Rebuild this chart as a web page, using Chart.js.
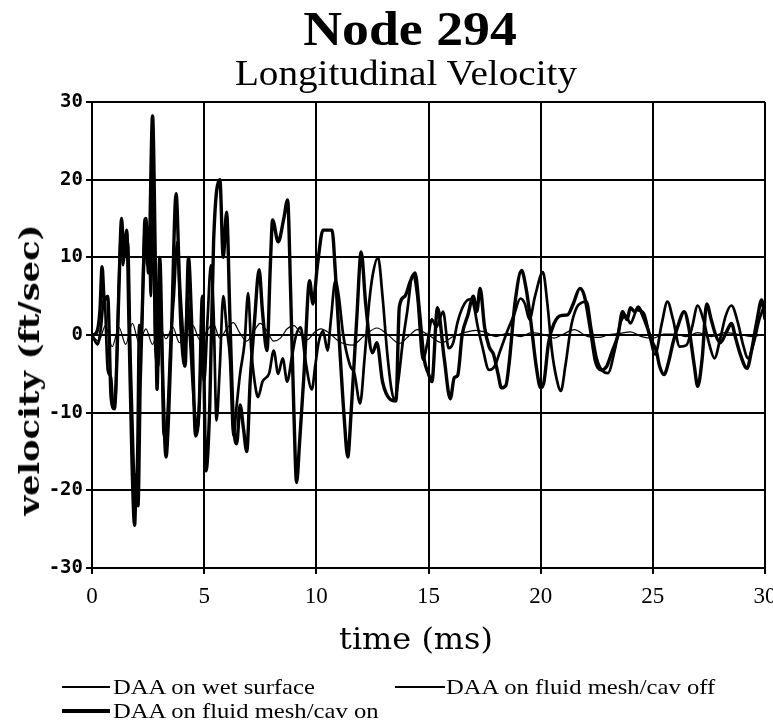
<!DOCTYPE html>
<html>
<head>
<meta charset="utf-8">
<script src="https://cdn.jsdelivr.net/npm/chart.js@4/dist/chart.umd.min.js"></script>
<style>
  html, body { margin: 0; padding: 0; background: #fff; overflow: hidden; }
  #wrap { position: relative; width: 773px; height: 724px; }
  #c { position: absolute; left: 0; top: 0; }
  .t { position: absolute; white-space: nowrap; color: #000; }
  #title { left: 410px; top: 5px; font: bold 48px/48px "Liberation Serif", serif; transform: translateX(-50%) scaleX(1.12); }
  #sub { left: 406px; top: 56px; font: 35px/35px "Liberation Serif", serif; transform: translateX(-50%) scaleX(1.12); }
  #ytitle { left: 30px; top: 370px; font: bold 28px/28px "DejaVu Serif", serif; transform: translate(-50%, -50%) rotate(-90deg) scaleX(1.2); }
  #xtitle { left: 416px; top: 625px; font: 29px/29px "DejaVu Serif", serif; transform: translateX(-50%) scaleX(1.1); }
  .lg { position: absolute; font: 22px/22px "Liberation Serif", serif; transform-origin: 0 50%; transform: scaleX(1.12); white-space: nowrap; }
  .sw { position: absolute; background: #000; }
</style>
</head>
<body>
<div id="wrap">
  <canvas id="c" width="773" height="724"></canvas>
  <div class="t" id="title">Node 294</div>
  <div class="t" id="sub">Longitudinal Velocity</div>
  <div class="t" id="ytitle">velocity (ft/sec)</div>
  <div class="t" id="xtitle">time (ms)</div>
  <div id="legend"></div>
</div>
<script>
// ---- data ----
const xTicks = [0, 5, 10, 15, 20, 25, 30];
const yTicks = [-30, -20, -10, 0, 10, 20, 30];

const seriesNames = ["DAA on wet surface", "DAA on fluid mesh/cav off", "DAA on fluid mesh/cav on"];

// DAA on wet surface (thin line)
const wetT = [0,0.3,0.6,0.9,1.2,1.5,1.8,2.1,2.4,2.7,3.0,3.3,3.6,3.9,4.2,4.5,4.8,5.1,5.4,5.7,6.0,6.3,6.6,6.9,7.2,7.5,7.8,8.1,8.4,8.7,9.0,9.3,9.6,9.9,10.2,10.6,11.0,11.6,12.1,12.7,13.2,13.7,14.1,14.5,15.0,15.6,16.1,16.6,17.1,17.5,18.0,18.5,19.1,19.6,20.1,20.6,21.0,21.5,22.1,22.6,23.0,23.5,24.0,24.5,25.0,25.5,26.0,26.5,27.0,27.6,28.2,28.8,29.4,30];
const wetV = [0,-0.8,1.2,-1.5,1,-1.2,1.5,-1,0.8,-1.2,1.3,-0.5,1,-1,0.5,1.2,-0.6,0.4,1.5,-0.4,0.8,1.6,0.2,-0.8,0.4,1.5,0.5,-0.8,-0.4,0.8,1.2,0.2,-0.6,0.3,0.8,0.2,-0.8,-1.3,-0.2,0.9,0,-1.1,-0.2,0.7,0,-1,-0.2,0.3,0.6,0.4,-0.2,0.2,-0.2,0.3,0.1,-0.4,0.1,0.7,-0.2,-0.3,0,0.2,0.4,-0.2,-0.4,0.1,0.1,-0.2,0.3,-0.2,0.3,0.1,-0.2,0.1];

// DAA on fluid mesh / cav off (medium line)
const offT = [0,0.25,0.4,0.55,0.7,0.85,0.95,1.05,1.15,1.3,1.38,1.48,1.6,1.72,1.82,1.92,2.02,2.1,2.2,2.35,2.45,2.55,2.62,2.72,2.8,2.95,3.05,3.2,3.35,3.5,3.65,3.8,3.95,4.12,4.25,4.38,4.55,4.72,4.88,5.0,5.15,5.3,5.42,5.55,5.7,5.85,6.0,6.15,6.3,6.45,6.6,6.8,6.96,7.1,7.25,7.4,7.6,7.9,8.1,8.3,8.5,8.7,8.9,9.1,9.3,9.5,9.8,9.95,10.1,10.3,10.5,10.65,10.85,11.0,11.2,11.5,11.7,11.95,12.15,12.35,12.5,12.75,12.95,13.15,13.35,13.5,13.65,13.85,14.05,14.3,14.5,14.75,14.95,15.15,15.35,15.65,15.9,16.1,16.3,16.6,16.85,17.0,17.2,17.4,17.7,17.95,18.2,18.5,18.8,19.1,19.3,19.5,19.75,20.1,20.3,20.5,20.7,20.9,21.1,21.35,21.6,21.85,22.05,22.25,22.5,22.75,23.0,23.3,23.55,23.8,24.0,24.3,24.6,24.85,25.1,25.4,25.65,25.9,26.2,26.5,26.75,27.0,27.25,27.5,27.75,28.0,28.25,28.5,28.8,29.0,29.25,29.5,29.75,30];
const offV = [0,-1.2,1,5,-4.5,-5.5,-9,-8,2,13,9,11,12,-3,-13,-21,-15,1.3,0,15,9,11,5,20,0,-4,5,-13,-11,-1,5,12,1,-4,5,-1,-9,-12,-3,-6,2,9,3,-11,-4,5,1,-3,-13,-9,-5,-1,5.4,-2,-6,-8,-6,-4.9,-2,-5,-3,-6,-3,0,1,-3,-7,-4,-1,0.5,-2,2,7,5,0,-3.9,-5,-8.8,-3,4,7.5,10,5,-2,-7,-8.4,-6,-1,3,7.7,5,-3.2,-1,2,1,3,-1.7,-1,1.7,4,4.6,4,1,-1.5,-4.5,-4,-2,0.4,2.5,4.7,4,2,5,8.1,4,-2,-5.5,-7.2,-4,1,3.5,4.2,4.3,1,-3,-4.6,-4.9,-2,1.5,2.5,1.5,3.2,2.8,0,-2.5,1.5,4.3,2,-1.5,-1.3,1,3.8,2,-1,-3,-0.5,2.5,3.8,1.5,-1,-3,-1,2,4];

// DAA on fluid mesh / cav on (thick line)
const onT = [0,0.2,0.35,0.45,0.55,0.7,0.85,1.0,1.1,1.2,1.32,1.42,1.55,1.65,1.78,1.9,1.98,2.05,2.15,2.25,2.4,2.52,2.7,2.82,2.9,3.02,3.15,3.3,3.42,3.55,3.75,3.9,4.0,4.15,4.3,4.45,4.62,4.78,4.92,5.08,5.25,5.42,5.7,5.85,6.0,6.15,6.3,6.45,6.6,6.75,6.9,7.05,7.25,7.45,7.6,7.8,7.95,8.05,8.3,8.55,8.72,8.85,9.0,9.12,9.25,9.45,9.7,9.85,10.05,10.3,10.7,10.85,11.05,11.25,11.4,11.55,11.8,12.0,12.2,12.5,12.7,12.95,13.3,13.55,13.7,13.95,14.2,14.4,14.6,14.8,15.0,15.15,15.4,15.7,15.97,16.15,16.3,16.5,16.75,17.0,17.15,17.3,17.5,17.7,17.9,18.1,18.25,18.45,18.6,18.85,19.15,19.35,19.55,19.8,20.0,20.15,20.35,20.6,20.9,21.2,21.45,21.75,21.95,22.2,22.45,22.7,22.95,23.2,23.45,23.65,23.85,24.0,24.2,24.35,24.55,24.75,24.95,25.15,25.3,25.5,25.7,25.9,26.1,26.4,26.6,26.85,27.0,27.2,27.4,27.6,27.8,28.0,28.3,28.5,28.7,28.9,29.2,29.4,29.65,29.85,30];
const onV = [0,0.3,3,8.8,4.5,5,-8,-9.5,-4,6,15,10,13.5,1,-16,-24.5,-18,-22,-6,4,15,8,28.2,10,-7,10,-5,-15.7,-10,1,18.2,7,2,-4,10,1,-13,-9,5,-17.5,-9,12,20,10,15.8,2,-11,-14,-9,-12,-15,-6,2,8.4,3,-2,9,14.8,12,15,17.4,6,-10,-19,-14,-5,7,4,9,13.5,13.5,8,-2,-11,-15.7,-10,2,10.7,4,-2.3,-1,-6,-8.3,-8.5,3.6,5,7,8,3,-3,-5,-6,3.5,-3,-8.2,-5.5,-5.2,0,2.5,5,3,6,1,-1.5,-2.5,-5,-6.8,-6.5,-3.5,4,8.3,6,2,-4,-6.8,-6,-1,1.5,2.5,2.6,4,6,5,1,-3.5,-4.5,-4,-2,0,3,2,3.5,3,3.6,2.5,1,-0.8,-2,-4,-5.1,-3.5,-1,1,3,1,-4,-6.6,-3,4,2,0,-1,0.5,1.5,-0.5,-2.5,-4.3,-2,2,4.5,2];

// ---- build chart ----
const pts = (T, V) => T.map((t, i) => ({ x: t, y: V[i] }));
const widths = [1.2, 2.7, 3.4];

const chart = new Chart(document.getElementById('c'), {
  type: 'line',
  data: {
    datasets: [
      { label: seriesNames[0], data: pts(wetT, wetV), borderColor: '#000', borderWidth: widths[0] },
      { label: seriesNames[1], data: pts(offT, offV), borderColor: '#000', borderWidth: widths[1] },
      { label: seriesNames[2], data: pts(onT, onV), borderColor: '#000', borderWidth: widths[2] }
    ]
  },
  options: {
    responsive: false,
    animation: false,
    devicePixelRatio: 1,
    elements: { point: { radius: 0 }, line: { tension: 0.3, cubicInterpolationMode: 'monotone', borderJoinStyle: 'round' } },
    layout: { padding: { top: 102, left: 0, right: 8, bottom: 66 } },
    plugins: { legend: { display: false }, title: { display: false }, tooltip: { enabled: false } },
    scales: {
      x: {
        type: 'linear', min: 0, max: 30,
        afterBuildTicks: s => { s.ticks = xTicks.map(v => ({ value: v })); },
        afterFit: s => { s.height = 90; s.paddingLeft = 0; s.paddingRight = 0; },
        ticks: { color: '#000', font: { family: 'Liberation Serif', size: 23 }, padding: 9, maxRotation: 0 },
        grid: { color: '#000', lineWidth: 2, tickLength: 6, drawTicks: true },
        border: { color: '#000', width: 2 }
      },
      y: {
        type: 'linear', min: -30, max: 30,
        afterBuildTicks: s => { s.ticks = yTicks.map(v => ({ value: v })); },
        afterFit: s => { s.width = 92; s.paddingTop = 0; s.paddingBottom = 0; },
        ticks: { color: '#000', font: { family: 'DejaVu Sans Mono', size: 19, weight: 'bold' }, padding: 3 },
        grid: { color: '#000', lineWidth: 2, tickLength: 6 },
        border: { color: '#000', width: 2 }
      }
    }
  }
});

// ---- legend (HTML, from seriesNames) ----
const legendPos = [
  { sx: 62, sw: 48, tx: 113, y: 687 },
  { sx: 395, sw: 50, tx: 446, y: 687 },
  { sx: 62, sw: 48, tx: 113, y: 711 }
];
const lg = document.getElementById('legend');
seriesNames.forEach((name, i) => {
  const p = legendPos[i];
  const sw = document.createElement('div');
  sw.className = 'sw';
  sw.style.left = p.sx + 'px';
  sw.style.width = p.sw + 'px';
  sw.style.height = widths[i] + 'px';
  sw.style.top = (p.y - widths[i] / 2) + 'px';
  lg.appendChild(sw);
  const tx = document.createElement('div');
  tx.className = 'lg';
  tx.style.left = p.tx + 'px';
  tx.style.top = (p.y - 11) + 'px';
  tx.textContent = name;
  lg.appendChild(tx);
});
</script>
</body>
</html>
